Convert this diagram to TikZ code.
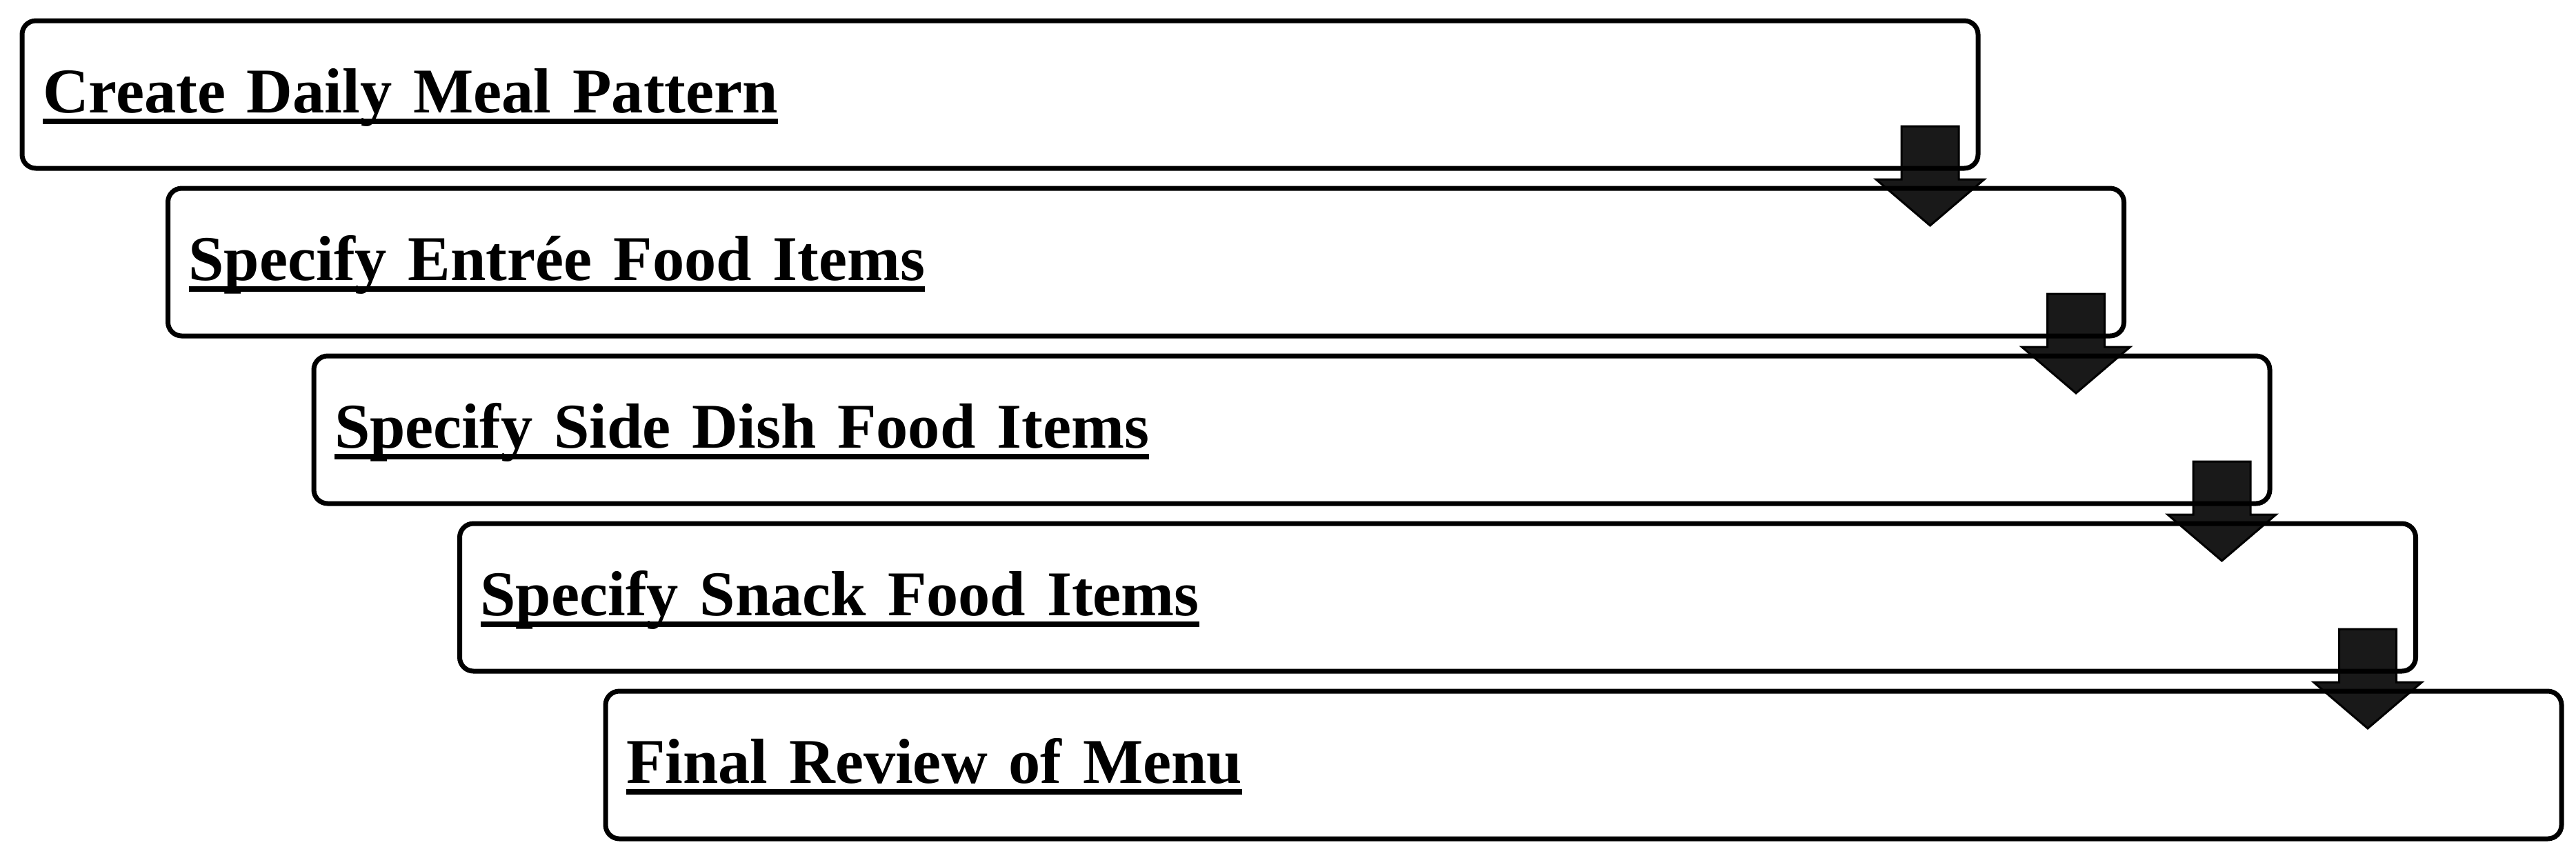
\documentclass[tikz,border=0pt]{standalone}
\usepackage{fontspec}
\setmainfont{Liberation Serif}
\usepackage{tikz}
\usetikzlibrary{positioning}
\usetikzlibrary{calc}
\usetikzlibrary{backgrounds}
\newsavebox{\stepboxtext}
\newcommand{\steptext}[1]{\sbox{\stepboxtext}{#1}\rlap{\rule[-0.17cm]{\wd\stepboxtext}{0.08cm}}\usebox{\stepboxtext}}
\definecolor{arrowfill}{gray}{0.1}
\tikzstyle{stepbox}=
[rectangle,
rounded corners=0.2cm,
line width=0.07cm,
draw=black,
minimum width=28.36cm,
minimum height=2.14cm,
text width=27.76cm,
inner xsep=0.3cm,
outer sep=0cm,
align=left,
text height=0.75cm,
text depth=0.23cm,
font=\fontsize{26.3}{31}\selectfont\bfseries]
\tikzstyle{bigarrow}=
[draw=black,line width=0.03cm,fill=arrowfill,line join=miter]

\begin{document}
\begin{tikzpicture}
\useasboundingbox (0,0) rectangle (37.35,-12.40);
\node (A)
[stepbox,
anchor=north west]
at (0.32,-0.30)
{\steptext{Create Daily Meal Pattern}};
\node (B)
[stepbox,
below right=0.29cm and 2.115cm of A.south west]
{\steptext{Specify Entrée Food Items}};
\node (C)
[stepbox,
below right=0.29cm and 2.115cm of B.south west]
{\steptext{Specify Side Dish Food Items}};
\node (D)
[stepbox,
below right=0.29cm and 2.115cm of C.south west]
{\steptext{Specify Snack Food Items}};
\node (E)
[stepbox,
below right=0.29cm and 2.115cm of D.south west]
{\steptext{Final Review of Menu}};
% block arrows sit under the box outlines
\begin{scope}[on background layer]
\draw[bigarrow]($(A.south east)+(-1.11,0.61)$)--++(0.83,0)--++(0,-0.77)--++(0.37,0)--++(-0.785,-0.67)--++(-0.785,0.67)--++(0.37,0)--cycle;
\draw[bigarrow]($(B.south east)+(-1.11,0.61)$)--++(0.83,0)--++(0,-0.77)--++(0.37,0)--++(-0.785,-0.67)--++(-0.785,0.67)--++(0.37,0)--cycle;
\draw[bigarrow]($(C.south east)+(-1.11,0.61)$)--++(0.83,0)--++(0,-0.77)--++(0.37,0)--++(-0.785,-0.67)--++(-0.785,0.67)--++(0.37,0)--cycle;
\draw[bigarrow]($(D.south east)+(-1.11,0.61)$)--++(0.83,0)--++(0,-0.77)--++(0.37,0)--++(-0.785,-0.67)--++(-0.785,0.67)--++(0.37,0)--cycle;
\end{scope}
\end{tikzpicture}
\end{document}
